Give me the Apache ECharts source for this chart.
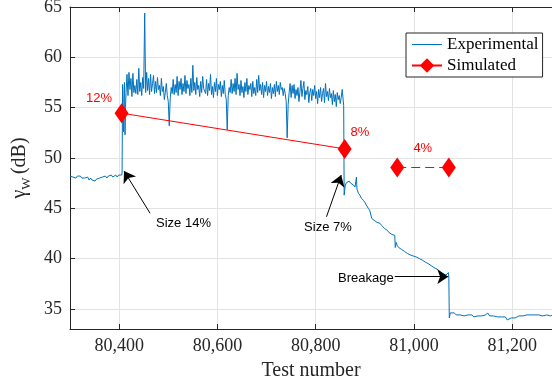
<!DOCTYPE html>
<html>
<head>
<meta charset="utf-8">
<script src="https://cdn.jsdelivr.net/npm/echarts@6/dist/echarts.min.js"></script>
<style>html,body{margin:0;padding:0;background:#fff}#c{width:552px;height:385px}</style>
</head>
<body>
<div id="c"></div>
<script>
// ---- data ----
const xTicks = [80400, 80600, 80800, 81000, 81200];
const yTicks = [35, 40, 45, 50, 55, 60, 65];

const baselineStart = 80300, baselineStep = 3;
const baselineY = [
  48.2, 48.3, 48.1, 48.2, 48.0, 48.2, 48.1, 48.2, 48.0, 48.1,
  48.0, 47.9, 48.1, 47.8, 48.0, 47.8, 47.9, 47.7, 47.9, 47.8,
  48.0, 47.9, 48.1, 48.0, 48.2, 48.0, 48.2, 48.1, 48.3, 48.1,
  48.2, 48.3, 48.1, 48.3, 48.2, 48.3
];
const transitionPts = [
  [80406, 48.5], [80407, 57.3], [80408, 54.2], [80409, 52.6], [80410, 56.8],
  [80411, 57.5], [80412, 52.3], [80413, 55.0], [80414, 56.4]
];
const plateauStart = 80416, plateauStep = 2;
const plateauY = [
  58.3, 56.2, 58.5, 56.8, 57.9, 56.1, 58.4, 56.5, 57.2, 56.4,
  57.8, 56.3, 58.9, 56.6, 57.5, 56.2, 58.0, 56.9, 64.4, 56.5,
  58.5, 56.7, 57.9, 56.3, 58.3, 56.6, 57.4, 58.2, 56.4, 57.6,
  56.5, 58.0, 56.8, 57.2, 56.2, 57.9, 56.6, 57.1, 55.8, 56.5,
  57.4, 56.2, 55.6, 53.2, 55.9, 57.0, 56.4, 57.8, 56.3, 57.3,
  56.5, 58.1, 56.2, 57.6, 56.8, 57.9, 56.3, 57.4, 56.6, 58.2,
  56.4, 57.7, 56.9, 57.3, 56.2, 57.9, 56.5, 59.2, 56.7, 57.5,
  56.3, 58.0, 56.8, 57.2, 56.1, 57.6, 56.5, 58.1, 56.9, 57.0,
  56.4, 57.8, 56.2, 57.4, 56.7, 58.3, 56.3, 57.1, 56.0, 57.5,
  56.6, 57.9, 56.2, 57.3, 56.8, 57.6, 56.1, 57.2, 56.4, 57.7,
  56.3, 55.8, 52.8, 56.2, 57.0, 56.5, 57.8, 56.4, 57.4, 56.6,
  57.9, 56.3, 58.4, 56.8, 57.3, 56.2, 57.7, 56.5, 57.1, 56.0,
  57.5, 56.6, 57.9, 56.3, 57.2, 56.8, 57.4, 56.1, 57.6, 56.4,
  57.0, 56.2, 57.8, 56.5, 58.2, 56.7, 57.3, 56.3, 57.5, 56.0,
  57.2, 56.6, 57.6, 56.2, 57.1, 56.5, 57.4, 55.9, 57.0, 56.4,
  57.3, 56.1, 57.6, 56.6, 57.2, 56.3, 57.5, 56.8, 57.0, 56.2,
  56.9, 56.4, 55.6, 52.0, 55.3, 56.5, 57.4, 56.0, 57.2, 56.4,
  57.3, 55.9, 56.8, 56.2, 57.0, 55.6, 56.6, 57.7, 56.1, 56.9,
  57.6, 55.8, 56.7, 56.3, 57.1, 55.5, 56.5, 56.9, 55.7, 56.8,
  56.2, 57.2, 55.9, 56.6, 55.4, 56.8, 56.0, 57.0, 55.6, 56.4,
  56.9, 55.5, 57.4, 56.1, 56.6, 55.7, 56.9, 56.0, 56.4, 55.3,
  56.7, 55.6, 56.3, 55.1, 56.5, 55.8, 56.2, 55.4, 56.0, 56.8,
  56.8
];
const declinePts = [
  [80857, 55.2], [80858, 46.3], [80860, 47.2], [80862, 47.5], [80865, 47.6],
  [80868, 47.7], [80871, 47.5], [80874, 47.4], [80877, 47.3], [80880, 47.1],
  [80882, 47.0], [80883, 48.1], [80884, 46.9], [80887, 46.5], [80890, 46.3],
  [80893, 46.0], [80897, 45.8], [80900, 45.6], [80902, 45.4], [80904, 45.3],
  [80907, 45.0], [80910, 44.8], [80912, 44.7], [80914, 44.0], [80916, 44.0],
  [80919, 43.8], [80922, 43.8], [80925, 43.6], [80928, 43.6], [80931, 43.5],
  [80934, 43.3], [80937, 43.2], [80940, 43.0], [80943, 42.9], [80946, 42.8],
  [80949, 42.6], [80952, 42.5], [80955, 42.4], [80958, 42.3], [80961, 42.3],
  [80962, 41.1], [80964, 41.6], [80966, 41.3], [80969, 41.1], [80972, 41.0],
  [80975, 40.9], [80978, 40.8], [80981, 40.7], [80984, 40.6], [80987, 40.5],
  [80990, 40.45], [80993, 40.35], [80996, 40.3], [80999, 40.25], [81002, 40.2],
  [81005, 40.15], [81008, 40.05], [81011, 40.0], [81014, 39.9], [81017, 39.85],
  [81020, 39.8], [81023, 39.65], [81026, 39.55], [81029, 39.5], [81032, 39.35],
  [81035, 39.3], [81038, 39.2], [81041, 39.1], [81044, 39.0], [81047, 38.95],
  [81050, 38.8], [81053, 38.7], [81056, 38.6], [81059, 38.5], [81062, 38.45],
  [81065, 38.35], [81067, 38.4], [81069, 38.3], [81070, 38.6], [81071, 38.2],
  [81072, 34.1]
];
const floorStart = 81074, floorStep = 4;
const floorY = [
  34.6, 34.5, 34.6, 34.4, 34.5, 34.4, 34.5, 34.3, 34.4, 34.4,
  34.3, 34.4, 34.2, 34.3, 34.3, 34.2, 34.3, 34.2, 34.4, 34.6,
  34.3, 34.2, 34.3, 34.2, 34.2, 34.1, 34.2, 34.3, 34.2, 33.9,
  34.0, 34.1, 34.2, 34.1, 34.2, 34.3, 34.2, 34.3, 34.3, 34.4,
  34.3, 34.4, 34.3, 34.4, 34.3, 34.4, 34.4, 34.3, 34.4, 34.4,
  34.4, 34.3, 34.4
];

const simSolidX = [80405, 80859];
const simSolidY = [54.45, 50.9];
const simDashX = [80966, 81071];
const simDashY = [49.05, 49.05];
const simPctText = ['12%', '8%', '4%'];
const simPctPos = [[80359, 55.95], [80890, 52.57], [81018, 50.98]];

const noteTexts = ['Size 14%', 'Size 7%', 'Breakage'];
const notePos = [[80531, 43.5], [80825, 43.06], [80902, 38.06]];
const arrowTails = [[80463, 44.5], [80822, 44.15], [80961, 38.2]];
const arrowTips = [[80410, 48.7], [80852, 48.3], [81070, 38.2]];

// ---- build ----
const expData = [];
baselineY.forEach((v, i) => expData.push([baselineStart + i * baselineStep, v]));
transitionPts.forEach(p => expData.push(p));
plateauY.forEach((v, i) => expData.push([plateauStart + i * plateauStep, v]));
declinePts.forEach(p => expData.push(p));
floorY.forEach((v, i) => expData.push([floorStart + i * floorStep, v]));

const simSolid = simSolidX.map((x, i) => [x, simSolidY[i]]);
const simDash = simDashX.map((x, i) => [x, simDashY[i]]);

const axisColor = '#262626';
const serif = 'Liberation Serif';
const sans = 'Liberation Sans';
const fmt = v => String(v).replace(/\B(?=(\d{3})+(?!\d))/g, ',');

const chart = echarts.init(document.getElementById('c'), null, {renderer: 'canvas'});
chart.setOption({
  animation: false,
  backgroundColor: '#fff',
  grid: {left: 70, top: 7, right: 0, bottom: 56, containLabel: false, outerBoundsMode: 'none'},
  legend: {
    data: [
      {name: 'Experimental', icon: 'path://M0,0h30v1h-30z'},
      {name: 'Simulated'}
    ],
    orient: 'vertical', left: 406, top: 33, symbolKeepAspect: true,
    padding: [3, 4, 3, 5], itemGap: 4, itemWidth: 30, itemHeight: 18,
    borderColor: axisColor, borderWidth: 1, backgroundColor: '#fff',
    textStyle: {fontFamily: serif, fontSize: 17, color: '#000'}
  },
  xAxis: [{
    type: 'value', min: 80300, max: 81281,
    name: 'Test number', nameLocation: 'middle', nameGap: 32,
    nameTextStyle: {fontFamily: serif, fontSize: 20, color: axisColor},
    axisLine: {show: true, lineStyle: {color: axisColor, width: 1}},
    axisTick: {show: true, inside: true, length: 5, customValues: xTicks, lineStyle: {color: axisColor}},
    axisLabel: {customValues: xTicks, formatter: fmt, margin: 8, fontFamily: serif, fontSize: 18, color: axisColor},
    splitLine: {show: true, lineStyle: {color: '#e3e3e3', width: 1}}
  }, {
    type: 'value', position: 'top', min: 80300, max: 81281,
    axisLine: {show: true, onZero: false, lineStyle: {color: axisColor, width: 1}},
    axisTick: {show: true, inside: true, length: 5, customValues: xTicks, lineStyle: {color: axisColor}},
    axisLabel: {show: false},
    splitLine: {show: false}
  }],
  yAxis: {
    type: 'value', min: 33, max: 65,
    name: '{g|γ}{s|W} {g|(dB)}', nameLocation: 'middle', nameGap: 36,
    nameTextStyle: {
      rich: {
        g: {fontFamily: serif, fontSize: 20, color: axisColor},
        s: {fontFamily: serif, fontSize: 13, color: axisColor, padding: [14, 0, 0, 0]}
      }
    },
    axisLine: {show: true, lineStyle: {color: axisColor, width: 1}},
    axisTick: {show: true, inside: true, length: 5, customValues: yTicks, lineStyle: {color: axisColor}},
    axisLabel: {customValues: yTicks, margin: 8, fontFamily: serif, fontSize: 18, color: axisColor},
    splitLine: {show: true, lineStyle: {color: '#e3e3e3', width: 1}}
  },
  series: [{
    name: 'Experimental', type: 'line', data: expData,
    symbol: 'none', lineStyle: {color: '#0072BD', width: 1}, itemStyle: {color: '#0072BD'},
    z: 2,
    markLine: {
      silent: true, animation: false,
      symbol: ['none', 'arrow'], symbolSize: 11,
      lineStyle: {color: '#000', width: 1, type: 'solid'},
      label: {show: false},
      data: arrowTails.map((t, i) => [{coord: t}, {coord: arrowTips[i]}])
    },
    markPoint: {
      silent: true, symbol: 'circle', symbolSize: 1,
      itemStyle: {color: 'rgba(0,0,0,0)'},
      label: {show: true, position: 'inside', fontFamily: sans, fontSize: 13, color: '#000',
        formatter: p => noteTexts[p.dataIndex]},
      data: notePos.map(p => ({coord: p}))
    }
  }, {
    name: 'Simulated', type: 'line', data: simSolid,
    symbol: 'diamond', symbolSize: [14, 20],
    lineStyle: {color: '#ff0000', width: 1}, itemStyle: {color: '#ff0000'},
    z: 5,
    markPoint: {
      silent: true, symbol: 'circle', symbolSize: 1,
      itemStyle: {color: 'rgba(0,0,0,0)'},
      label: {show: true, position: 'inside', fontFamily: sans, fontSize: 13, color: '#ff0000',
        formatter: p => simPctText[p.dataIndex]},
      data: simPctPos.map(p => ({coord: p}))
    }
  }, {
    name: 'Simulated 4%', type: 'line', data: simDash,
    symbol: 'diamond', symbolSize: [14, 20],
    lineStyle: {color: '#ff0000', width: 1, type: [9, 5]}, itemStyle: {color: '#ff0000'},
    z: 5
  }]
});
</script>
</body>
</html>
